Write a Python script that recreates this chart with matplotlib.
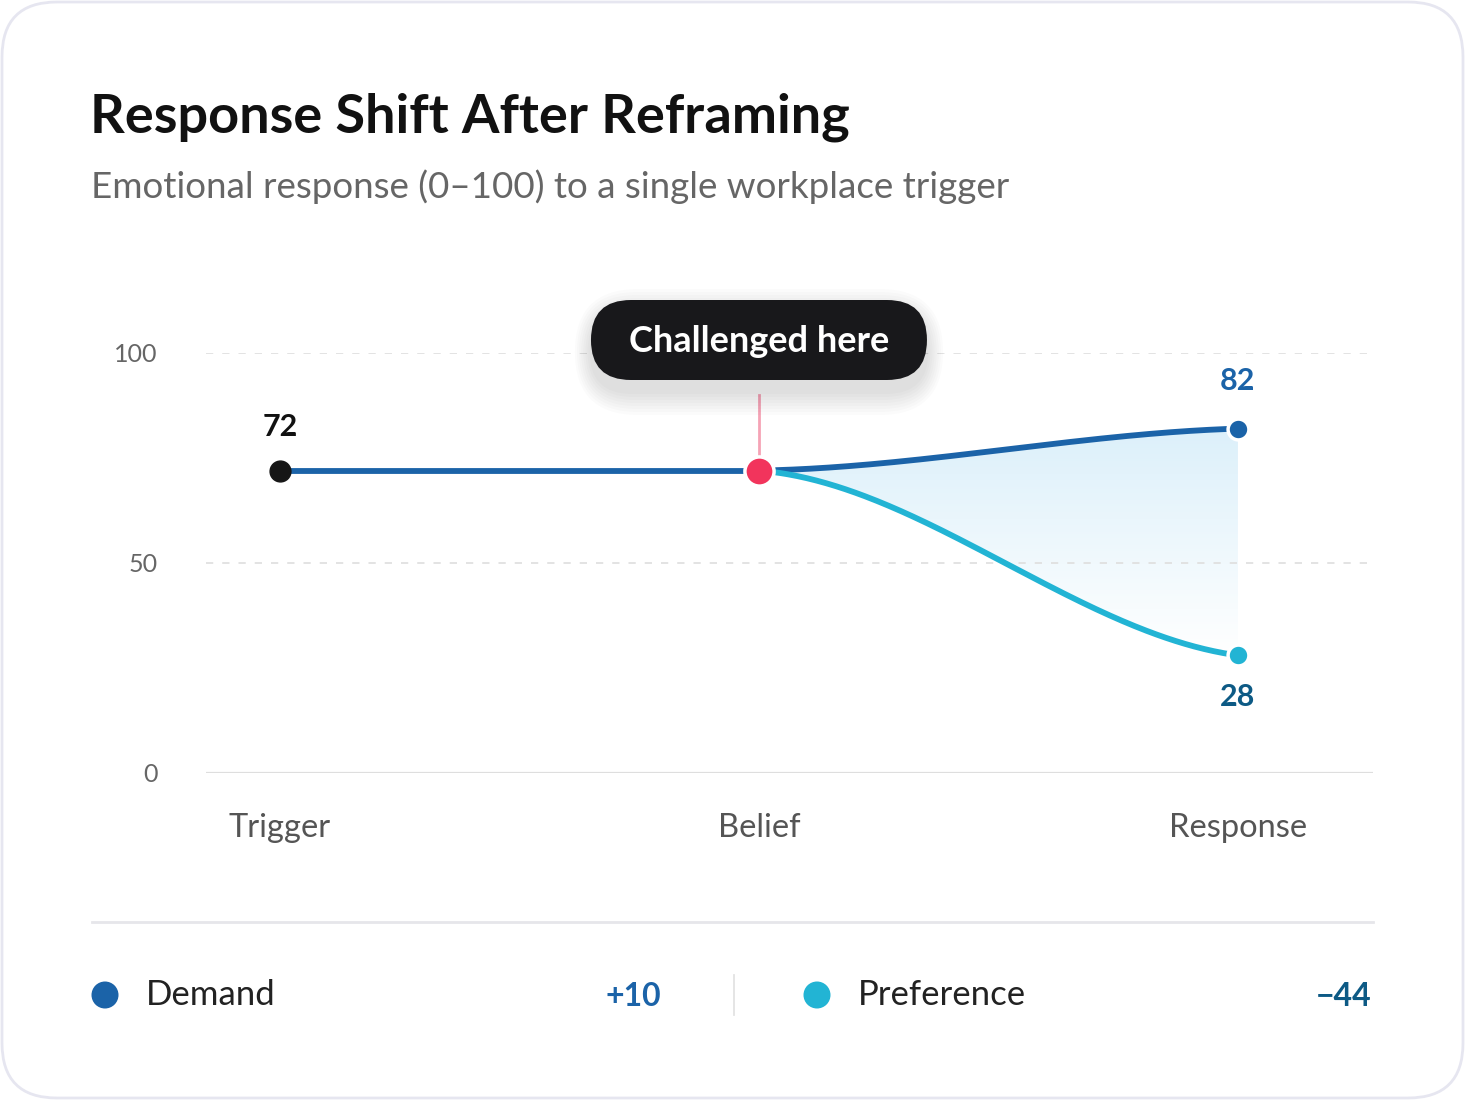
import numpy as np
import matplotlib.pyplot as plt
from matplotlib.patches import FancyBboxPatch, Circle, Polygon
from matplotlib.colors import LinearSegmentedColormap

plt.rcParams['font.family'] = ['Lato', 'DejaVu Sans']

# data
stages = ["Trigger", "Belief", "Response"]
demand = [72, 72, 82]
preference = [72, 72, 28]
y_ticks = [0, 50, 100]
callout = "Challenged here"

title = "Response Shift After Reframing"
subtitle = "Emotional response (0\u2013100) to a single workplace trigger"

DEMAND = "#1b63a8"
PREF = "#22b4d4"
DARK = "#0d5a85"
PINK = "#f2345c"

W, H = 1465, 1100
fig = plt.figure(figsize=(W / 100, H / 100), dpi=100)
fig.patch.set_facecolor("white")

# background card
bg = fig.add_axes([0, 0, 1, 1], zorder=0)
bg.set_xlim(0, W)
bg.set_ylim(H, 0)
bg.axis("off")
bg.add_patch(FancyBboxPatch((2, 2), W - 4, H - 4, boxstyle="round,pad=0,rounding_size=55",
                            fc="white", ec="#e6e6f0", lw=2))
bg.text(90, 132, title, fontsize=39, fontweight="bold", color="#111111", va="baseline")
bg.text(91, 198, subtitle, fontsize=26.5, color="#666666", va="baseline")

# chart
ax = fig.add_axes([206 / W, 1 - 773 / H, 1167 / W, 420 / H], zorder=1)
ax.patch.set_alpha(0)
x = np.arange(len(stages))
ax.set_xlim(-0.1545, 2.282)
ax.set_ylim(0, 100)
for s in ax.spines.values():
    s.set_visible(False)
ax.tick_params(length=0)
ax.set_yticks(y_ticks)
ax.set_yticklabels([str(v) for v in y_ticks], fontsize=18, color="#666666")
ax.tick_params(axis="y", pad=35)
for lbl in ax.get_yticklabels():
    lbl.set_horizontalalignment("right")
ax.set_xticks(x)
ax.set_xticklabels(stages, fontsize=23.5, color="#555555")
ax.tick_params(axis="x", pad=29)
for v in y_ticks:
    if v == 0:
        ax.axhline(v, color="#dedede", lw=1.6, zorder=1)
    else:
        ax.axhline(v, color="#e0e0e0", lw=1.3, ls=(0, (4, 5)), zorder=2.5)


def ease(x0, y0, x1, y1, m0=0.2, m1=0.35, n=200):
    # cubic hermite easing with gentle end slopes
    s = np.linspace(0, 1, n)
    f = (-2 * s ** 3 + 3 * s ** 2) + m0 * (s ** 3 - 2 * s ** 2 + s) + m1 * (s ** 3 - s ** 2)
    return x0 + (x1 - x0) * s, y0 + (y1 - y0) * f


dx, dy = ease(x[1], demand[1], x[2], demand[2])
px, py = ease(x[1], preference[1], x[2], preference[2])

# gradient fill between the branches
cmap = LinearSegmentedColormap.from_list("fade", ["#ffffff", "#dcf0fa"])
grad = np.linspace(0, 1, 256).reshape(-1, 1)
im = ax.imshow(grad, cmap=cmap, aspect="auto", origin="lower",
               extent=[x[1], x[2], min(preference), max(demand)], zorder=2)
poly = Polygon(np.column_stack([np.r_[dx, px[::-1]], np.r_[dy, py[::-1]]]),
               closed=True, fc="none", ec="none", transform=ax.transData)
ax.add_patch(poly)
im.set_clip_path(poly)

ax.plot(x[:2], demand[:2], color=DEMAND, lw=4.2, zorder=3, solid_capstyle="round")
ax.plot(dx, dy, color=DEMAND, lw=4.2, zorder=3, solid_capstyle="round")
ax.plot(px, py, color=PREF, lw=4.2, zorder=3, solid_capstyle="round")

# callout stem
ax.plot([x[1], x[1]], [demand[1], 90], color="#f5a3b6", lw=2, zorder=2)

# markers
ax.plot(x[0], demand[0], "o", ms=15, color="#161616", zorder=5, clip_on=False)
ax.plot(x[1], demand[1], "o", ms=21, color=PINK, mec="white", mew=2.5, zorder=5, clip_on=False)
ax.plot(x[2], demand[2], "o", ms=15, color=DEMAND, mec="white", mew=2.5, zorder=5, clip_on=False)
ax.plot(x[2], preference[2], "o", ms=15, color=PREF, mec="white", mew=2.5, zorder=5, clip_on=False)

ax.annotate(str(demand[0]), (x[0], demand[0]), xytext=(0, 21), textcoords="offset points",
            ha="center", va="bottom", fontsize=22, fontweight="bold", color="#111111")
ax.annotate(str(demand[2]), (x[2], demand[2]), xytext=(0, 24), textcoords="offset points",
            ha="center", va="bottom", fontsize=22, fontweight="bold", color=DEMAND)
ax.annotate(str(preference[2]), (x[2], preference[2]), xytext=(0, -20), textcoords="offset points",
            ha="center", va="top", fontsize=22, fontweight="bold", color=DARK)

# top overlay: callout pill and legend row
top = fig.add_axes([0, 0, 1, 1], zorder=2)
top.set_xlim(0, W)
top.set_ylim(H, 0)
top.axis("off")
cx = ax.transData.transform((x[1], 0))[0]
pw, ph = 336, 80
for i in range(8):
    g = 2 + i * 3
    top.add_patch(FancyBboxPatch((cx - pw / 2 - g * 0.7, 300 + 12 - g), pw + 1.4 * g, ph + 2 * g,
                                 boxstyle="round,pad=0,rounding_size=%d" % (40 + g),
                                 fc="black", ec="none", alpha=0.016))
top.add_patch(FancyBboxPatch((cx - pw / 2, 300), pw, ph, boxstyle="round,pad=0,rounding_size=40",
                             fc="#18181b", ec="none"))
top.text(cx, 341, callout, ha="center", va="center", fontsize=26, fontweight="bold", color="white")

top.plot([92, 1373], [922, 922], color="#e6e6ea", lw=2)
top.plot([734, 734], [975, 1015], color="#e3e3e3", lw=1.3)

legend = [("Demand", DEMAND, DEMAND, demand[2] - demand[1], 105, 661),
          ("Preference", PREF, DARK, preference[2] - preference[1], 817, 1372)]
for name, col, dcol, delta, lx, rx in legend:
    top.add_patch(Circle((lx, 995), 13.5, fc=col, ec="none"))
    top.text(lx + 41, 995, name, fontsize=25, color="#222222", va="center")
    sign = "+" if delta > 0 else "\u2212"
    top.text(rx, 996, "%s%d" % (sign, abs(delta)), fontsize=23, fontweight="bold",
             color=dcol, va="center", ha="right")

fig.savefig("out.png", dpi=100, facecolor="white")
